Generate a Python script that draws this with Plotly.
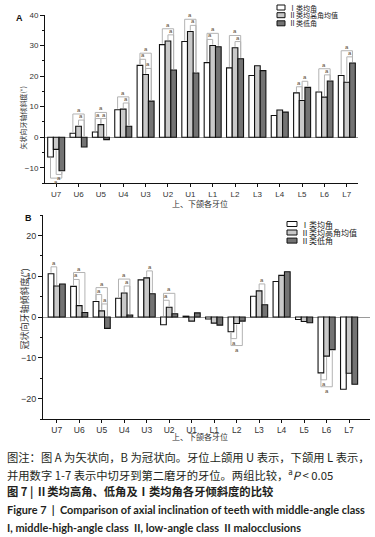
import plotly.graph_objects as go

W, H = 375, 537

teeth = ["U7", "U6", "U5", "U4", "U3", "U2", "U1", "L1", "L2", "L3", "L4", "L5", "L6", "L7"]
group_names = ["Ⅰ类均角", "Ⅱ类均高角均值", "Ⅱ类低角"]

# Panel A: sagittal inclination (°)
a_class1 = [-6.5, 1.3, 1.7, 9.0, 23.5, 30.3, 31.3, 24.4, 22.7, 20.2, 7.1, 14.5, 14.8, 20.2]
a_high = [-4.0, 3.6, 4.1, 9.2, 20.5, 31.5, 34.6, 30.0, 29.3, 23.4, 8.9, 12.0, 13.1, 18.0]
a_low = [-11.0, -3.2, -0.8, 3.6, 11.8, 22.0, 21.0, 29.6, 25.7, 21.8, 8.2, 16.3, 18.4, 24.3]

# Panel B: coronal inclination (°)
b_class1 = [10.6, 7.5, 3.8, 4.6, 9.1, -1.9, 0.2, -0.5, -3.6, 5.1, 8.7, -0.6, -13.7, -17.7]
b_high = [7.6, 2.8, 1.5, 5.9, 9.6, 2.4, -1.0, -1.5, -1.6, 6.4, 10.2, -1.1, -9.6, -13.8]
b_low = [8.1, 1.1, -2.8, 0.5, 5.7, 0.8, 1.0, -2.0, -1.0, 3.0, 11.1, -1.4, -8.0, -16.5]

# significant pairs (tooth, group i, group j), label "a"
a_pairs = [("U7", 1, 2), ("U7", 0, 2), ("U6", 1, 2), ("U6", 0, 2), ("U5", 0, 1), ("U5", 1, 2), ("U5", 0, 2),
           ("U4", 1, 2), ("U4", 0, 2), ("U3", 0, 1), ("U3", 1, 2), ("U3", 0, 2), ("U2", 1, 2), ("U2", 0, 2),
           ("U1", 1, 2), ("U1", 0, 2), ("L1", 0, 1), ("L1", 0, 2), ("L2", 1, 2), ("L2", 0, 2),
           ("L5", 0, 1), ("L5", 1, 2), ("L6", 1, 2), ("L6", 0, 2), ("L7", 1, 2), ("L7", 0, 2)]
b_pairs = [("U7", 0, 1), ("U6", 0, 1), ("U6", 0, 2), ("U5", 0, 1), ("U5", 1, 2), ("U5", 0, 2),
           ("U4", 1, 2), ("U4", 0, 2), ("U3", 1, 2), ("U2", 0, 1), ("U2", 0, 2),
           ("L2", 0, 1), ("L2", 0, 2), ("L3", 1, 2), ("L6", 0, 1), ("L6", 0, 2)]

caption_lines = [
    "图注：图 A 为矢状向，B 为冠状向。牙位上颌用 U 表示，下颌用 L 表示，",
    "并用数字 1-7 表示中切牙到第二磨牙的牙位。两组比较，<sup>a</sup><i>P</i> < 0.05",
    "<b>图 7 | Ⅱ类均高角、低角及Ⅰ类均角各牙倾斜度的比较</b>",
    "<b>Figure 7  |  Comparison of axial inclination of teeth with middle-angle class</b>",
    "<b>I, middle-high-angle class  II, low-angle class  II malocclusions</b>",
]

fills = ["#ffffff", "#c9c9c9", "#737373"]
CJK = "Noto Sans CJK SC"
LAT = "Liberation Sans, Arial"
BARGAP = 0.24
bw = (1 - BARGAP) / 3


def px(x):
    return x / W


def py(y):
    return 1 - y / H


fig = go.Figure()
idx = list(range(len(teeth)))
for k, (va, vb) in enumerate(zip([a_class1, a_high, a_low], [b_class1, b_high, b_low])):
    fig.add_trace(go.Bar(x=idx, y=va, name=group_names[k], marker=dict(color=fills[k], line=dict(color="#111", width=1.1)),
                         xaxis="x", yaxis="y", showlegend=False, hoverinfo="skip"))
    fig.add_trace(go.Bar(x=idx, y=vb, name=group_names[k], marker=dict(color=fills[k], line=dict(color="#111", width=1.1)),
                         xaxis="x2", yaxis="y2", showlegend=False, hoverinfo="skip"))

shapes = []
annotations = []


def brackets(pairs, series, xref, yref, up_step, down_step, gap):
    by_tooth = {}
    for t, i, j in pairs:
        by_tooth.setdefault(t, []).append((i, j))
    for t, plist in by_tooth.items():
        ti = teeth.index(t)
        vals = [s[ti] for s in series]
        above = max(vals) >= -min(vals)
        plist.sort(key=lambda p: (p[1] - p[0], p[0]))
        placed = []
        for i, j in plist:
            span = vals[i:j + 1]
            if above:
                base = max(max(span), 0)
            else:
                base = min(min(span), 0)
            for (pi, pj, lv) in placed:
                if not (pj <= i or j <= pi):
                    base = max(base, lv) if above else min(base, lv)
            lvl = base + up_step if above else base - down_step
            placed.append((i, j, lvl))
            x1 = ti + (i - 1) * bw
            x2 = ti + (j - 1) * bw
            if above:
                y1 = max(vals[i], 0) + gap
                y2 = max(vals[j], 0) + gap
            else:
                y1 = min(vals[i], 0) - gap
                y2 = min(vals[j], 0) - gap
            shapes.append(dict(type="path", xref=xref, yref=yref,
                               path=f"M{x1},{y1} L{x1},{lvl} L{x2},{lvl} L{x2},{y2}",
                               line=dict(color="#b3b3b3", width=1)))
            annotations.append(dict(x=(x1 + x2) / 2, y=lvl, xref=xref, yref=yref, text="a", showarrow=False,
                                    yanchor="bottom" if above else "top", yshift=-1 if above else 1,
                                    font=dict(size=6, color="#5a4a30", family=LAT)))


brackets(a_pairs, [a_class1, a_high, a_low], "x", "y", 2.0, 1.2, 0.3)
brackets(b_pairs, [b_class1, b_high, b_low], "x2", "y2", 1.7, 1.7, 0.25)


# custom legends
def legend(x0, w, rows, h, size):
    for k, yc in enumerate(rows):
        shapes.append(dict(type="rect", xref="paper", yref="paper", x0=px(x0), x1=px(x0 + w),
                           y0=py(yc + h / 2), y1=py(yc - h / 2), fillcolor=fills[k],
                           line=dict(color="#111", width=1)))
        annotations.append(dict(x=px(x0 + w + 2), y=py(yc), xref="paper", yref="paper", text=group_names[k],
                                showarrow=False, xanchor="left", yanchor="middle",
                                font=dict(size=size, color="#222", family=CJK)))


legend(277, 8, [7.5, 15.2, 23.3], 5, 7)
legend(287, 10, [224.0, 232.5, 240.6], 5, 8)

# panel letters
annotations.append(dict(x=px(14), y=py(11), xref="paper", yref="paper", text="<b>A</b>", showarrow=False,
                        font=dict(size=9, color="#111", family=LAT)))
annotations.append(dict(x=px(23), y=py(218), xref="paper", yref="paper", text="<b>B</b>", showarrow=False,
                        font=dict(size=9, color="#111", family=LAT)))
# axis titles
annotations.append(dict(x=px(15), y=py(85), xref="paper", yref="paper", text="矢状向牙轴倾斜度(°)", textangle=-90,
                        showarrow=False, font=dict(size=7, color="#333", family=CJK)))
annotations.append(dict(x=px(15), y=py(309), xref="paper", yref="paper", text="冠状向牙轴倾斜度(°)", textangle=-90,
                        showarrow=False, font=dict(size=9, color="#333", family=CJK)))
annotations.append(dict(x=px(200), y=py(203), xref="paper", yref="paper", text="上、下颌各牙位",
                        showarrow=False, font=dict(size=8, color="#333", family=CJK)))
annotations.append(dict(x=px(200), y=py(444), xref="paper", yref="paper", text="上、下颌各牙位",
                        showarrow=False, font=dict(size=8, color="#333", family=CJK)))

# caption
cap_y = [457, 474, 491, 509, 527]
cap_font = [CJK, CJK, CJK, "Lato", "Lato"]
cap_size = [11.3, 11.3, 11.3, 10.9, 10.9]
for line, yc, fam, sz in zip(caption_lines, cap_y, cap_font, cap_size):
    annotations.append(dict(x=px(5), y=py(yc), xref="paper", yref="paper", text=line, showarrow=False,
                            xanchor="left", yanchor="middle", font=dict(size=sz, color="#231f20", family=fam)))

axis_common = dict(showline=True, linecolor="#111", linewidth=1, ticks="outside", tickcolor="#111",
                   showgrid=False, automargin=False)

fig.update_layout(
    width=W, height=H, margin=dict(l=0, r=0, t=0, b=0, autoexpand=False),
    paper_bgcolor="white", plot_bgcolor="white",
    barmode="group", bargap=BARGAP, bargroupgap=0,
    showlegend=False,
    xaxis=dict(domain=[px(45), px(358)], range=[-0.5, 13.5], tickvals=idx, ticktext=teeth, ticklen=3,
               anchor="y", zeroline=False, tickfont=dict(size=8, color="#333", family=LAT), **axis_common),
    yaxis=dict(domain=[py(183), py(15)], range=[-15, 40], tickvals=[-10, 0, 10, 20, 30, 40], ticklen=4,
               anchor="x", zeroline=True, zerolinecolor="#9a9a9a", zerolinewidth=1,
               minor=dict(dtick=5, ticks="outside", ticklen=2, tickcolor="#111"),
               tickfont=dict(size=8, color="#333", family=LAT), **axis_common),
    xaxis2=dict(domain=[px(43), px(370)], range=[-0.61, 13.93], tickvals=idx, ticktext=teeth, ticklen=3,
                anchor="y2", zeroline=False, tickfont=dict(size=8.5, color="#333", family=LAT), **axis_common),
    yaxis2=dict(domain=[py(419), py(215)], range=[-25, 25], tickvals=[-20, -10, 0, 10, 20], ticklen=4,
                anchor="x2", zeroline=True, zerolinecolor="#9a9a9a", zerolinewidth=1,
                minor=dict(dtick=5, ticks="outside", ticklen=2, tickcolor="#111"),
                tickfont=dict(size=9, color="#333", family=LAT), **axis_common),
    shapes=shapes, annotations=annotations,
)

fig.write_html("out.html", config={"displayModeBar": False},
               post_script="document.body.style.margin='0';document.body.style.overflow='hidden';")
